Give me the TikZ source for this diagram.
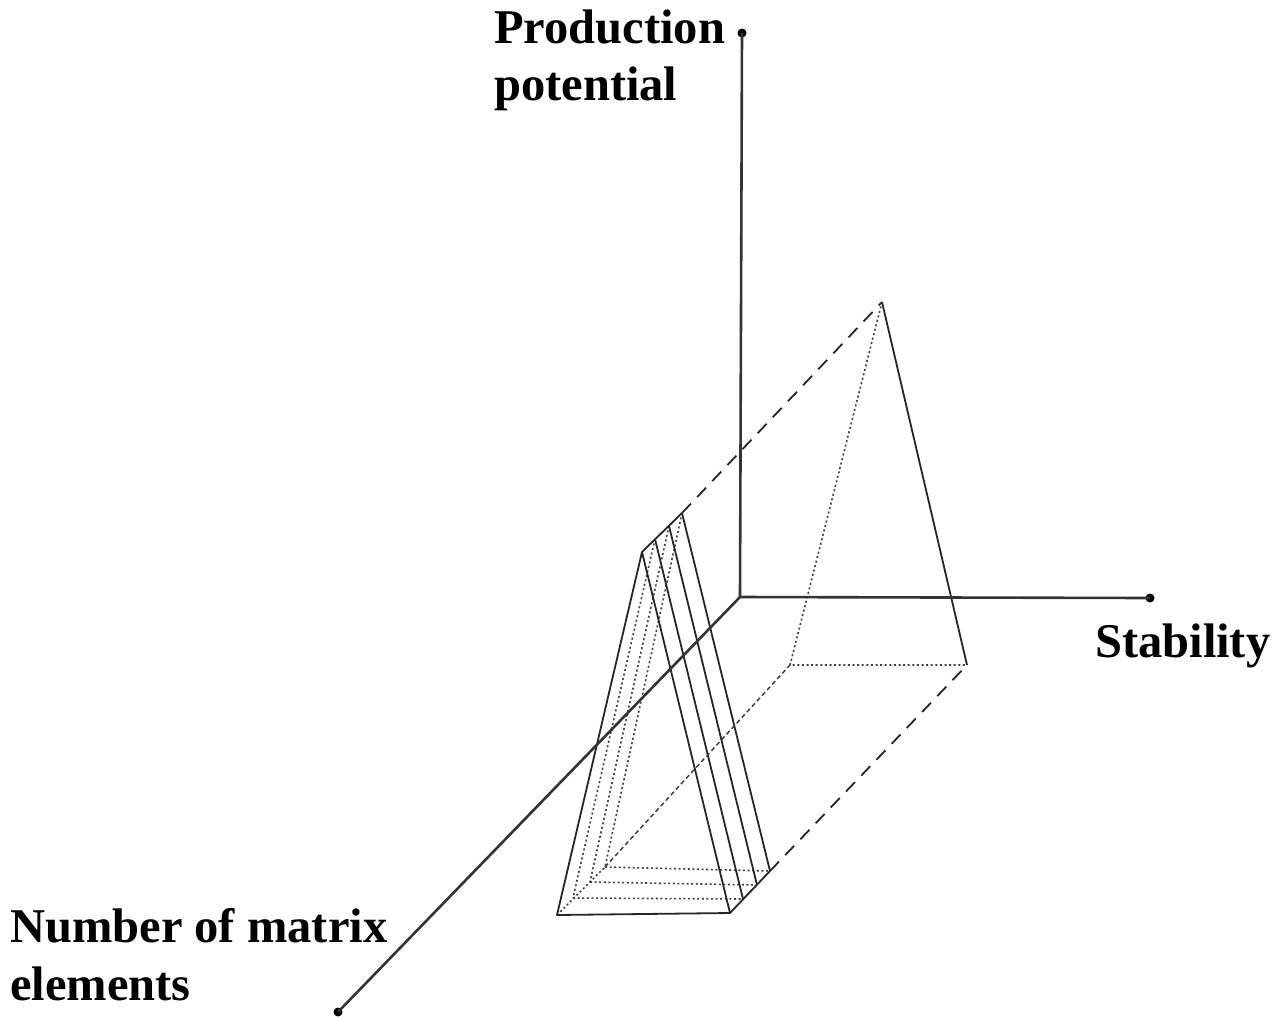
\documentclass[tikz,border=0pt]{standalone}
\usepackage{fontspec}
\setmainfont{Liberation Serif}
\begin{document}
\begin{tikzpicture}[x=1pt,y=-1pt,
  axisline/.style={line width=2.6pt,black!80},
  edge/.style={line width=1.8pt,black!85},
  hid/.style={line width=1.6pt,black!75,dash pattern=on 2pt off 2.6pt},
  lngdash/.style={line width=1.8pt,black!85,dash pattern=on 13pt off 9pt},
  shdash/.style={line width=1.5pt,black!75,dash pattern=on 4.5pt off 3pt},
  enddot/.style={circle,fill=black,inner sep=0pt,minimum size=9pt},
  lbl/.style={font=\fontsize{48.5}{57}\selectfont\bfseries,inner sep=0pt}]
\useasboundingbox (0,0) rectangle (1288,1018);
% axes
\coordinate (O) at (740,597);
\node[enddot] (Ptop) at (742,33) {};
\node[enddot] (Send) at (1150,598) {};
\node[enddot] (Nend) at (338,1012) {};
% front layers
\coordinate (A0) at (642,552); \coordinate (A1) at (655,539);
\coordinate (A2) at (669,526); \coordinate (A3) at (682,513);
\coordinate (L0) at (557,915); \coordinate (L1) at (573,898);
\coordinate (L2) at (590,882); \coordinate (L3) at (605,867);
\coordinate (R0) at (730,913); \coordinate (R1) at (743,899);
\coordinate (R2) at (757,885); \coordinate (R3) at (770,871);
% back triangle
\coordinate (BA) at (882,302);
\coordinate (BL) at (790,665);
\coordinate (BR) at (967,665);
% hidden (dotted) edges
\foreach \k in {1,2,3}{
  \draw[hid] (A\k) -- (L\k);
  \draw[hid] (L\k) -- (R\k);
}
\draw[hid] (L0) -- (L3);
\draw[hid] (BA) -- (BL) -- (BR);
% solid edges
\draw[edge,line join=round] (A0) -- (L0) -- (R0) -- cycle;
\foreach \k in {1,2,3}{ \draw[edge] (A\k) -- (R\k); }
\draw[edge] (A0) -- (A3);
\draw[edge] (R0) -- (R3);
\draw[edge] (BA) -- (BR);
% connecting dashed lines
\draw[lngdash] (A3) -- (BA);
\draw[lngdash] (R3) -- (BR);
\draw[shdash] (L3) -- (BL);
% axes on top
\draw[axisline] (O) -- (Ptop.center);
\draw[axisline] (O) -- (Send.center);
\draw[axisline] (O) -- (Nend.center);
% labels
\node[lbl,anchor=base west] (pp1) at (494,43) {Production};
\node[lbl,anchor=base west] (pp2) at (494,100) {potential};
\node[lbl,anchor=base west] (st) at (1095,657) {Stability};
\node[lbl,anchor=base west] (nm1) at (10,942) {Number of matrix};
\node[lbl,anchor=base west] (nm2) at (10,1000) {elements};
\end{tikzpicture}
\end{document}
